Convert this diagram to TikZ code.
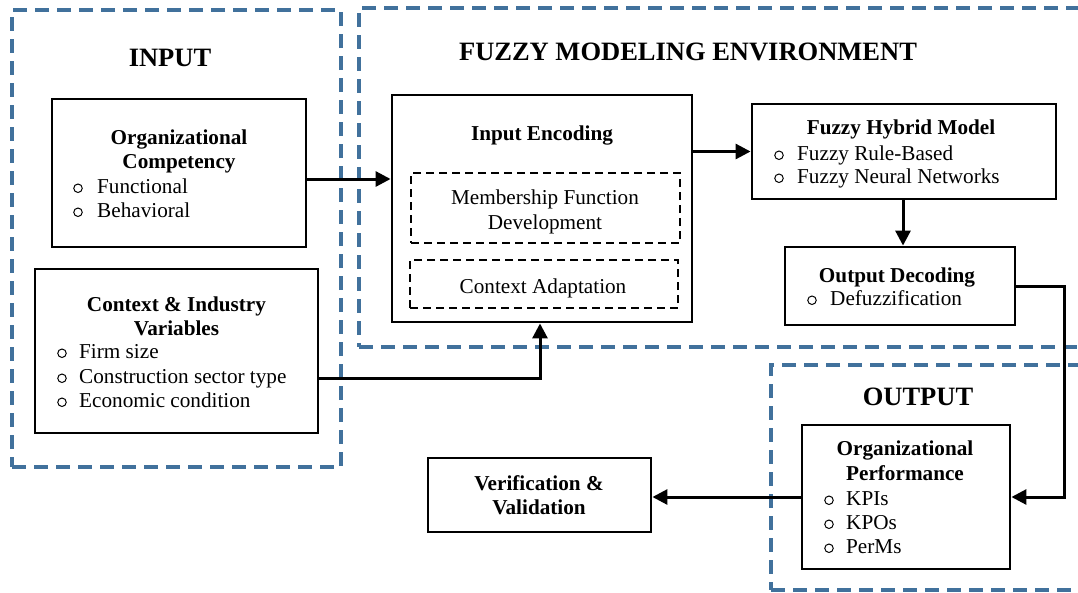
\documentclass[tikz,border=0pt]{standalone}
\usepackage{fontspec}
\setmainfont{Liberation Serif}
\usetikzlibrary{arrows.meta,calc}
\definecolor{zoneblue}{RGB}{65,113,156}
\begin{document}
\begin{tikzpicture}[x=1pt,y=-1pt,
  zone/.style={draw=zoneblue, line width=3.2pt, dash pattern=on 14pt off 8pt, inner sep=0pt},
  block/.style={draw, line width=2.9pt, inner sep=0pt},
  subblock/.style={draw, line width=2.3pt, dash pattern=on 8pt off 5pt, inner sep=0pt},
  arr/.style={line width=3pt, -{Triangle[length=15pt,width=15pt]}},
  head/.style={font=\fontsize{26.5}{30}\selectfont\bfseries, anchor=base, inner sep=0pt},
  ttl/.style={font=\fontsize{21.2}{24.5}\selectfont\bfseries, anchor=base, inner sep=0pt},
  txt/.style={font=\fontsize{21.2}{24.5}\selectfont, anchor=base west, inner sep=0pt},
  ctxt/.style={font=\fontsize{21.2}{24.5}\selectfont, anchor=base, inner sep=0pt},
  bul/.style={circle, draw, line width=1pt, minimum size=8.5pt, inner sep=0pt, anchor=south},
]
\useasboundingbox (0,0) rectangle (1078,592);

% ---- zones ----
\node[zone, minimum width=329pt, minimum height=457pt] (inzone) at (176.5,238.5) {};
\node[zone, minimum width=741pt, minimum height=339pt] (fzzone) at (729.5,177.5) {};
\node[zone, minimum width=329pt, minimum height=225pt] (outzone) at (935.5,477.5) {};

\node[head] (inhead) at (170,66) {INPUT};
\node[head] (fzhead) at (688,60) {FUZZY MODELING ENVIRONMENT};
\node[head] (outhead) at (918,405) {OUTPUT};

% ---- blocks ----
\node[block, minimum width=254pt, minimum height=148pt] (oc) at (179,173) {};
\node[block, minimum width=283pt, minimum height=164pt] (ci) at (176.5,351) {};
\node[block, minimum width=300pt, minimum height=227pt] (ie) at (542,208.5) {};
\node[subblock, minimum width=269pt, minimum height=70pt] (mf) at (545.5,208) {};
\node[subblock, minimum width=268pt, minimum height=48pt] (ca) at (544,284) {};
\node[block, minimum width=304pt, minimum height=95pt] (fh) at (904,151.5) {};
\node[block, minimum width=230pt, minimum height=78pt] (od) at (900,286) {};
\node[block, minimum width=208pt, minimum height=144pt] (op) at (906,497) {};
\node[block, minimum width=223pt, minimum height=74pt] (vv) at (539.5,495) {};

% ---- Organizational Competency ----
\node[ttl] (oct1) at (179,144) {Organizational};
\node[ttl] (oct2) at (179,168) {Competency};
\node[bul] (ocb1) at (78,193) {};
\node[txt] (oci1) at (97,193) {Functional};
\node[bul] (ocb2) at (78,217) {};
\node[txt] (oci2) at (97,217) {Behavioral};

% ---- Context & Industry Variables ----
\node[ttl] (cit1) at (176.5,311) {Context \& Industry};
\node[ttl] (cit2) at (176.5,335) {Variables};
\node[bul] (cib1) at (62,358) {};
\node[txt] (cii1) at (79,358) {Firm size};
\node[bul] (cib2) at (62,383) {};
\node[txt] (cii2) at (79,383) {Construction sector type};
\node[bul] (cib3) at (62,407) {};
\node[txt] (cii3) at (79,407) {Economic condition};

% ---- Input Encoding ----
\node[ttl] (iet) at (542,140) {Input Encoding};
\node[ctxt] (mft1) at (545,204) {Membership Function};
\node[ctxt] (mft2) at (545,229) {Development};
\node[ctxt] (cat) at (543,293) {Context Adaptation};

% ---- Fuzzy Hybrid Model ----
\node[ttl] (fht) at (901,134) {Fuzzy Hybrid Model};
\node[bul] (fhb1) at (779,160) {};
\node[txt] (fhi1) at (797,160) {Fuzzy Rule-Based};
\node[bul] (fhb2) at (779,183) {};
\node[txt] (fhi2) at (797,183) {Fuzzy Neural Networks};

% ---- Output Decoding ----
\node[ttl] (odt) at (897,282) {Output Decoding};
\node[bul] (odb1) at (812,305) {};
\node[txt] (odi1) at (830,305) {Defuzzification};

% ---- Organizational Performance ----
\node[ttl] (opt1) at (905,455) {Organizational};
\node[ttl] (opt2) at (905,480) {Performance};
\node[bul] (opb1) at (829,505) {};
\node[txt] (opi1) at (846,505) {KPIs};
\node[bul] (opb2) at (829,529) {};
\node[txt] (opi2) at (846,529) {KPOs};
\node[bul] (opb3) at (829,553) {};
\node[txt] (opi3) at (846,553) {PerMs};

% ---- Verification & Validation ----
\node[ttl] (vvt1) at (539,490) {Verification \&};
\node[ttl] (vvt2) at (539,514) {Validation};

% ---- connectors ----
\coordinate (lvl1) at (0,179);
\coordinate (lvl2) at (0,378);
\coordinate (turn) at (1064,400);
\coordinate (rise) at (540,0);

\draw[arr] (oc.east |- lvl1) -- (ie.west |- lvl1);
\draw[arr] (ie.east |- fh.west) -- (fh.west);
\draw[arr] (fh.south -| od.north) ++(3,0) coordinate (fhdrop) -- (fhdrop |- od.north);
\draw[arr] (ci.east |- lvl2) -| (rise |- ie.south);
\draw[arr] (od.east) -| (turn) |- (op.east);
\draw[arr] (op.west) -- (vv.east |- op.west);
\end{tikzpicture}
\end{document}
